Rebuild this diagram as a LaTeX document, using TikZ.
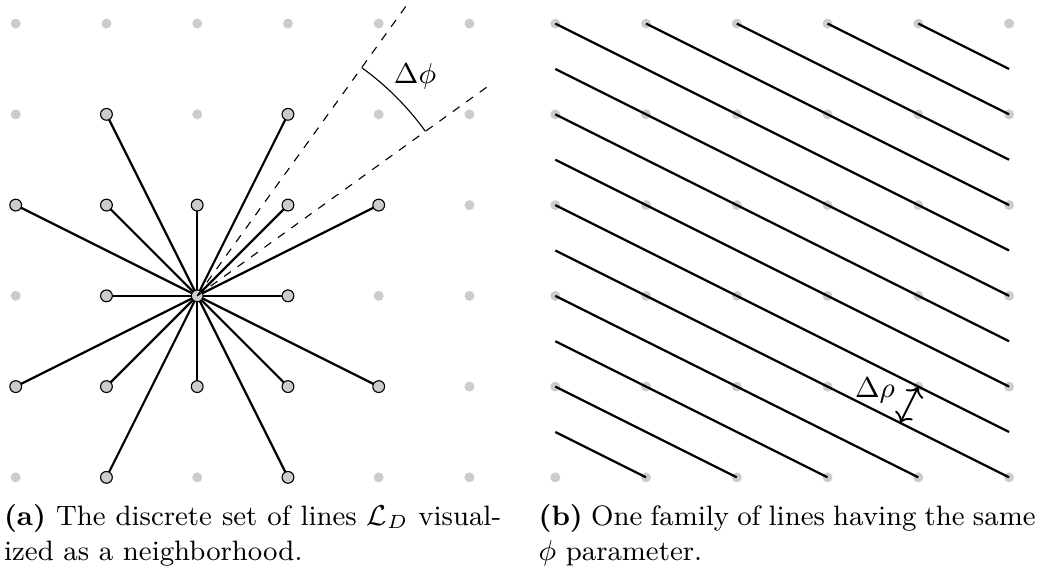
\documentclass[tikz,border=0pt]{standalone}
\usetikzlibrary{arrows.meta}
\begin{document}
\begin{tikzpicture}[x=1cm,y=1cm,
  gdot/.style={circle,fill=black!20,inner sep=0pt,minimum size=0.11cm},
  nbr/.style={circle,draw=black,line width=0.35pt,fill=black!20,inner sep=0pt,minimum size=0.13cm},
  ray/.style={line width=0.7pt},
  guide/.style={line width=0.35pt,dash pattern=on 2.6pt off 2.6pt},
  lbl/.style={font=\fontsize{8.8}{10.6}\selectfont,inner sep=0pt},
  captext/.style={font=\fontsize{8.8}{10.9}\selectfont,anchor=base west,inner sep=0pt,align=left}]
\useasboundingbox (-0.173,-1.077) rectangle (11.298,5.260);
% ---------- left panel: grid ----------
\foreach \i in {0,...,5} \foreach \j in {0,...,5} \node[gdot] (a\i\j) at (\i,\j) {};
% rays
\foreach \x/\y in {1/4,3/4,0/3,1/3,2/3,3/3,4/3,1/2,3/2,0/1,1/1,2/1,3/1,4/1,1/0,3/0}
  \draw[ray] (a22.center) -- (a\x\y.center);
% center
\node[nbr] (c) at (a22) {};
% dashed guides
\draw[guide] (c.center) -- ++(54.2175:3.955) coordinate (d1);
\draw[guide] (c.center) -- ++(35.7825:3.955) coordinate (d2);
\draw[line width=0.35pt] ([shift={(54.2175:3.1)}]c.center) arc[start angle=54.2175,end angle=35.7825,radius=3.1];
\node[lbl] (dphi) at (4.40,4.414) {$\Delta\phi$};
% neighbour circles
\foreach \x/\y in {1/4,3/4,0/3,1/3,2/3,3/3,4/3,1/2,3/2,0/1,1/1,2/1,3/1,4/1,1/0,3/0}
  \node[nbr] (n\x\y) at (a\x\y) {};
% ---------- right panel ----------
\begin{scope}[xshift=5.946cm]
\foreach \i in {0,...,5} \foreach \j in {0,...,5} \node[gdot] (b\i\j) at (\i,\j) {};
\foreach \k/\sx/\sy/\ex/\ey in {1/0/5/5/2.5,2/1/5/5/3,3/2/5/5/3.5,4/3/5/5/4,5/4/5/5/4.5,
  6/0/4.5/5/2,7/0/4/5/1.5,8/0/3.5/5/1,9/0/3/5/0.5,10/0/2.5/5/0,
  11/0/2/4/0,12/0/1.5/3/0,13/0/1/2/0,14/0/0.5/1/0}{
  \coordinate (s\k) at (\sx,\sy);
  \coordinate (e\k) at (\ex,\ey);
  \draw[ray] (s\k) -- (e\k);
}
\coordinate (r2) at (3.8,0.6);
\draw[line width=0.6pt,<->] (b41.center) -- (r2);
\node[lbl] (drho) at (3.523,0.962) {$\Delta\rho$};
\end{scope}
% ---------- captions ----------
\node[captext] (capa) at (-0.135,-0.911) {\makebox[5.477cm][s]{\textbf{(a)} The discrete set of lines $\mathcal{L}_D$ visual-}\\ized as a neighborhood.};
\node[captext] (capb) at (5.755,-0.911) {\makebox[5.477cm][s]{\textbf{(b)} One family of lines having the same}\\$\phi$ parameter.};
\end{tikzpicture}
\end{document}
